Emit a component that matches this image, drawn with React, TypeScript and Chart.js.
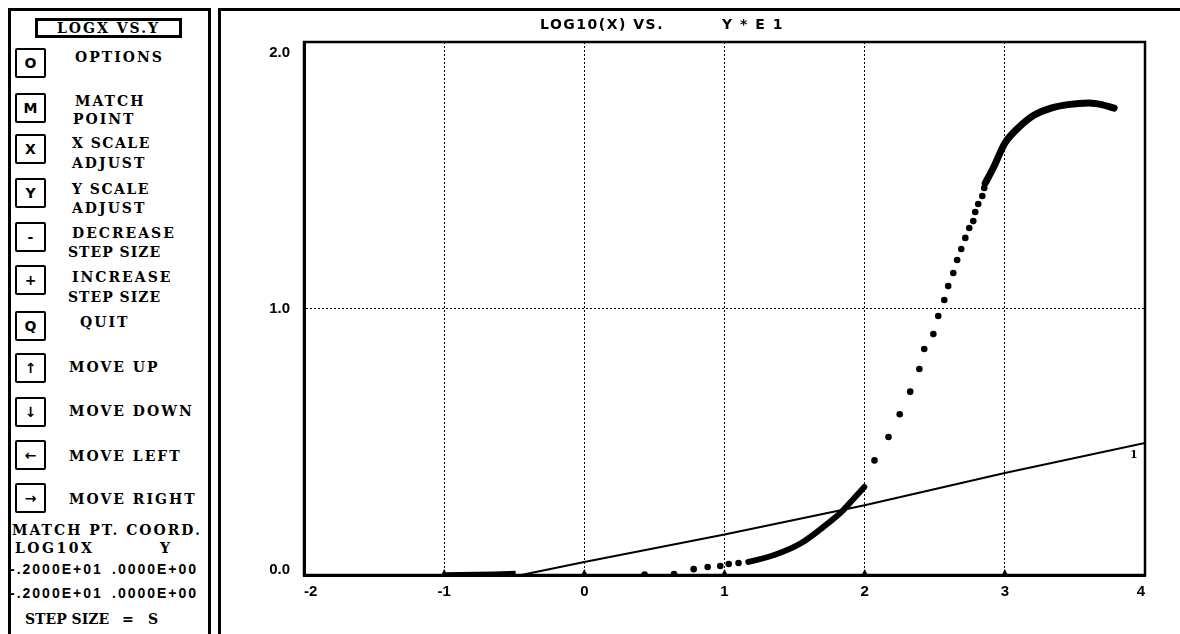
import React, { useEffect, useRef } from "react";
import { Chart, registerables } from "chart.js";

Chart.register(...registerables);

// ---------- data ----------
const xTickValues = [-2, -1, 0, 1, 2, 3, 4];
const xTickLabels = ["-2", "-1", "0", "1", "2", "3", "4"];
const yTickValues = [0, 1, 2];
const yTickLabels = ["0.0", "1.0", "2.0"];

// straight reference line (curve "1")
const lineX = [-1.0, -0.45, 0, 1, 2, 3, 4];
const lineY = [0.0, 0.0, 0.049, 0.152, 0.262, 0.383, 0.495];

// dense run of points along the base
const baseRunX = [-1.0, -0.64, -0.49];
const baseRunY = [0.003, 0.006, 0.008];

// dense (merged) portion of data, lower
const denseLowX = [1.17, 1.355, 1.548, 1.74, 1.833, 1.926, 1.997];
const denseLowY = [0.049, 0.075, 0.12, 0.195, 0.236, 0.289, 0.33];

// dense (merged) portion of data, upper
const denseHighX = [2.86, 2.92, 3.0, 3.1, 3.21, 3.33, 3.45, 3.6, 3.69, 3.78];
const denseHighY = [1.47, 1.53, 1.62, 1.68, 1.726, 1.752, 1.765, 1.771, 1.765, 1.752];

// separated data dots
const dotX = [0.43, 0.64, 0.78, 0.88, 0.97, 1.03, 1.1, 2.07, 2.17, 2.25, 2.325, 2.39, 2.425, 2.49, 2.525, 2.568, 2.596, 2.632, 2.66, 2.689, 2.718, 2.746, 2.775, 2.789, 2.81, 2.839, 2.853];
const dotY = [0.002, 0.004, 0.022, 0.03, 0.034, 0.041, 0.045, 0.43, 0.518, 0.603, 0.688, 0.773, 0.848, 0.904, 0.972, 1.032, 1.084, 1.133, 1.182, 1.223, 1.265, 1.302, 1.328, 1.362, 1.392, 1.422, 1.452];

const curveLabel = "1";
const curveLabelX = 3.92;
const curveLabelY = 0.45;

const titleLeft = "LOG10(X) VS.";
const titleRight = "Y * E 1";

const zip = (xs: number[], ys: number[]) => xs.map((x, i) => ({ x, y: ys[i] }));

const framePlugin = {
  id: "frame",
  afterDraw(chart: any) {
    const { ctx, chartArea: a, scales } = chart;
    ctx.save();
    ctx.strokeStyle = "#000";
    ctx.lineWidth = 2.5;
    ctx.strokeRect(a.left, a.top, a.right - a.left, a.bottom - a.top);

    ctx.fillStyle = "#000";
    xTickValues.slice(1, -1).forEach((v) => {
      const px = scales.x.getPixelForValue(v);
      ctx.beginPath();
      ctx.moveTo(px - 3, a.bottom);
      ctx.lineTo(px, a.bottom - 6);
      ctx.lineTo(px + 3, a.bottom);
      ctx.closePath();
      ctx.fill();
    });

    ctx.font = 'bold 15px "Liberation Sans"';
    ctx.textAlign = "right";
    ctx.textBaseline = "middle";
    yTickValues.forEach((v, i) => {
      let py = scales.y.getPixelForValue(v);
      py = Math.min(Math.max(py, a.top + 11), a.bottom - 5);
      ctx.fillText(yTickLabels[i], a.left - 14, py);
    });

    ctx.font = 'bold 14px "DejaVu Sans"';
    (ctx as any).letterSpacing = "1.5px";
    ctx.textAlign = "left";
    ctx.fillText(titleLeft, a.left + 236, 14);
    ctx.fillText(titleRight, a.left + 418, 14);

    (ctx as any).letterSpacing = "0px";
    ctx.font = 'bold 11px "DejaVu Serif"';
    ctx.textAlign = "center";
    ctx.fillText(curveLabel, scales.x.getPixelForValue(curveLabelX), scales.y.getPixelForValue(curveLabelY));
    ctx.restore();
  },
};

const panelFont = '"DejaVu Serif", serif';
const numFont = '"Liberation Sans", Arial, sans-serif';

function T({ x, y, children, size = 14, font = panelFont, ls = 2 }: any) {
  return (
    <div
      style={{
        position: "absolute",
        left: x,
        top: y,
        transform: "translateY(-50%)",
        fontFamily: font,
        fontWeight: "bold",
        fontSize: size,
        letterSpacing: ls,
        lineHeight: 1,
        whiteSpace: "pre",
        color: "#000",
      }}
    >
      {children}
    </div>
  );
}

function Key({ top, glyph }: any) {
  return (
    <div
      style={{
        position: "absolute",
        left: 15,
        top,
        width: 27,
        height: 26,
        border: "2px solid #000",
        borderRadius: 2,
        display: "flex",
        alignItems: "center",
        justifyContent: "center",
        fontFamily: '"DejaVu Sans", sans-serif',
        fontWeight: "bold",
        fontSize: 14,
      }}
    >
      {glyph}
    </div>
  );
}

export default function App() {
  const canvasRef = useRef<HTMLCanvasElement | null>(null);

  useEffect(() => {
    const canvas = canvasRef.current;
    if (!canvas) return;
    const chart = new Chart(canvas, {
      type: "scatter",
      data: {
        datasets: [
          {
            data: zip(lineX, lineY),
            showLine: true,
            borderColor: "#000",
            borderWidth: 2,
            pointRadius: 0,
            tension: 0,
          },
          {
            data: zip(baseRunX, baseRunY),
            showLine: true,
            borderColor: "#000",
            borderWidth: 4,
            pointRadius: 0,
          },
          {
            data: zip(denseLowX, denseLowY),
            showLine: true,
            borderColor: "#000",
            borderWidth: 6,
            borderCapStyle: "round",
            cubicInterpolationMode: "monotone",
            pointRadius: 0,
          },
          {
            data: zip(denseHighX, denseHighY),
            showLine: true,
            borderColor: "#000",
            borderWidth: 7,
            borderCapStyle: "round",
            cubicInterpolationMode: "monotone",
            pointRadius: 0,
          },
          {
            data: zip(dotX, dotY),
            showLine: false,
            pointRadius: 3.3,
            pointBackgroundColor: "#000",
            pointBorderWidth: 0,
          },
        ] as any,
      },
      options: {
        animation: false,
        responsive: false,
        layout: { padding: { top: 31, right: 35, left: 0, bottom: 0 } },
        plugins: {
          legend: { display: false },
          tooltip: { enabled: false },
          title: { display: false },
        },
        scales: {
          x: {
            type: "linear",
            min: -2,
            max: 4,
            ticks: {
              stepSize: 1,
              align: "inner",
              padding: 8,
              color: "#000",
              font: { family: "Liberation Sans", size: 15, weight: "bold" },
              callback: (v: any) => {
                const i = xTickValues.indexOf(Number(v));
                return i >= 0 ? xTickLabels[i] : "";
              },
            },
            grid: { color: "#000", lineWidth: 1, drawTicks: false },
            border: { display: true, color: "#000", width: 3, dash: [2, 2] },
            afterFit: (s: any) => {
              s.height = 59;
            },
          },
          y: {
            type: "linear",
            min: 0,
            max: 2,
            ticks: { stepSize: 1, display: false },
            grid: { color: "#000", lineWidth: 1, drawTicks: false },
            border: { display: true, color: "#000", width: 3, dash: [2, 2] },
            afterFit: (s: any) => {
              s.width = 82;
            },
          },
        },
      } as any,
      plugins: [framePlugin],
    });
    return () => chart.destroy();
  }, []);

  return (
    <div
      style={{
        position: "fixed",
        left: 0,
        top: 0,
        width: 1180,
        height: 634,
        background: "#fff",
        overflow: "hidden",
      }}
    >
      {/* left control panel */}
      <div
        style={{
          position: "absolute",
          left: 8,
          top: 8,
          width: 197,
          height: 640,
          border: "3px solid #000",
        }}
      />
      <div
        style={{
          position: "absolute",
          left: 35,
          top: 18,
          width: 141,
          height: 14,
          border: "3px solid #000",
          display: "flex",
          alignItems: "center",
          justifyContent: "center",
          fontFamily: panelFont,
          fontWeight: "bold",
          fontSize: 14,
          letterSpacing: 2,
        }}
      >
        LOGX VS.Y
      </div>

      <Key top={48} glyph="O" />
      <T x={75} y={57}>OPTIONS</T>
      <Key top={93} glyph="M" />
      <T x={75} y={101}>MATCH</T>
      <T x={73} y={119}>POINT</T>
      <Key top={134} glyph="X" />
      <T x={72} y={143} ls={1.5}>X SCALE</T>
      <T x={72} y={163}>ADJUST</T>
      <Key top={178} glyph="Y" />
      <T x={72} y={189} ls={1.5}>Y SCALE</T>
      <T x={72} y={208}>ADJUST</T>
      <Key top={222} glyph="-" />
      <T x={72} y={233}>DECREASE</T>
      <T x={68} y={252} ls={1}>STEP SIZE</T>
      <Key top={265} glyph="+" />
      <T x={72} y={277}>INCREASE</T>
      <T x={68} y={297} ls={1}>STEP SIZE</T>
      <Key top={311} glyph="Q" />
      <T x={80} y={322}>QUIT</T>
      <Key top={353} glyph="↑" />
      <T x={69} y={367}>MOVE UP</T>
      <Key top={397} glyph="↓" />
      <T x={69} y={411}>MOVE DOWN</T>
      <Key top={440} glyph="←" />
      <T x={69} y={456}>MOVE LEFT</T>
      <Key top={483} glyph="→" />
      <T x={69} y={499}>MOVE RIGHT</T>

      <T x={12} y={530} ls={2}>MATCH PT. COORD.</T>
      <T x={15} y={548} ls={2.5}>LOG10X</T>
      <T x={160} y={548}>Y</T>
      <T x={10} y={569} font={numFont} size={14} ls={2}>-.2000E+01</T>
      <T x={112} y={569} font={numFont} size={14} ls={2}>.0000E+00</T>
      <T x={10} y={593} font={numFont} size={14} ls={2}>-.2000E+01</T>
      <T x={112} y={593} font={numFont} size={14} ls={2}>.0000E+00</T>
      <T x={25} y={619} ls={0}>STEP SIZE</T>
      <T x={122} y={619}>=</T>
      <T x={148} y={619}>S</T>

      {/* chart frame */}
      <div
        style={{
          position: "absolute",
          left: 218,
          top: 8,
          width: 1000,
          height: 700,
          border: "3px solid #000",
        }}
      />
      <canvas
        ref={canvasRef}
        width={958}
        height={623}
        style={{ position: "absolute", left: 222, top: 11, width: 958, height: 623 }}
      />
    </div>
  );
}
